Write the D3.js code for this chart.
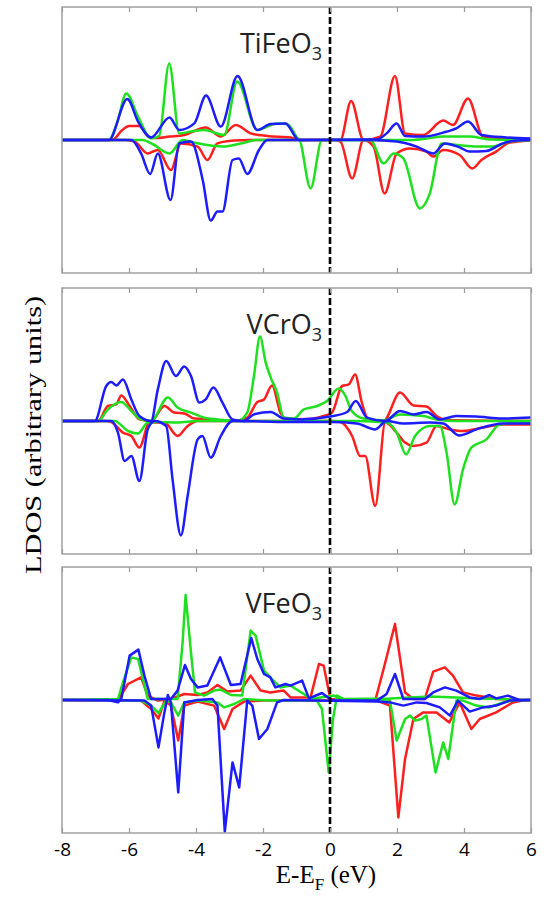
<!DOCTYPE html>
<html>
<head>
<meta charset="utf-8">
<script src="https://cdn.jsdelivr.net/npm/d3@7"></script>
<style>
  body { margin: 0; background: #fff; }
  svg { display: block; }
</style>
</head>
<body>
<script>
// energy axis, eV
const energyTicks = [-8, -6, -4, -2, 0, 2, 4, 6];
const compounds = ["TiFe", "VCr", "VFe"];

// [E - EF, LDOS], arbitrary units
const tiFeRedUp = [[-8,0],[-6.5,0],[-6.2,0.5],[-6.0,0.7],[-5.7,0.7],[-5.4,0.15],[-5.2,0.1],[-4.8,0.17],[-4.35,0.25],[-3.71,0.62],[-3.26,0.17],[-2.81,0.75],[-2.37,0.33],[-1.87,0.2],[-1.18,0.13],[-0.9,0],[0.31,0],[0.63,1.95],[1.0,0],[1.5,0.17],[1.94,3.2],[2.24,0.33],[2.78,0.25],[3.38,0.97],[3.67,0.75],[4.12,2.08],[4.57,0.17],[5.26,0.08],[6,0.03]];
const tiFeRedDown = [[-8,0],[-6.1,0],[-5.83,-0.08],[-5.44,-0.67],[-5.14,-0.5],[-4.75,-1.5],[-4.45,-0.17],[-3.95,-0.33],[-3.66,-1.0],[-3.36,-0.17],[-2.86,-0.03],[-2.4,0],[0.1,0],[0.31,-0.08],[0.66,-1.92],[1.0,0],[1.3,-0.33],[1.63,-2.67],[1.99,-0.67],[2.39,-0.42],[2.88,-0.58],[3.08,-0.83],[3.38,-0.5],[3.87,-0.75],[4.25,-1.42],[4.52,-1.0],[4.96,-0.58],[5.36,-0.13],[5.75,-0.05],[6,-0.03]];
const tiFeGreenUp = [[-8,0],[-6.6,0],[-6.35,0.9],[-6.08,2.33],[-5.73,1.17],[-5.34,0.08],[-5.1,0.2],[-4.8,3.83],[-4.5,0.33],[-4.15,0.42],[-3.76,0.5],[-3.16,0.25],[-2.77,2.92],[-2.17,0.5],[-1.58,0.83],[-1.28,0.8],[-0.88,0],[2.3,0],[2.78,0.05],[3.38,0.17],[4.17,0.17],[4.76,0.03],[6,0]];
const tiFeGreenDown = [[-8,0],[-5.6,0],[-5.3,-0.2],[-4.79,-0.67],[-4.4,0],[-4.0,-0.15],[-3.2,-0.33],[-2.6,-0.15],[-2.2,0],[-0.93,0],[-0.58,-2.42],[-0.24,0],[1.2,0],[1.6,-1.17],[1.9,-0.67],[2.19,-0.92],[2.68,-3.42],[2.98,-2.67],[3.33,-0.17],[3.8,-0.25],[4.4,-0.33],[4.86,-0.33],[5.36,-0.08],[6,0]];
const tiFeBlueUp = [[-8,0],[-6.6,0],[-6.05,2.05],[-5.73,0.92],[-5.34,0.13],[-4.79,1.13],[-4.5,0.5],[-4.05,0.83],[-3.7,2.22],[-3.26,0.67],[-2.76,3.2],[-2.17,0.5],[-1.77,0.8],[-1.33,0.83],[-0.93,0],[1.4,0.03],[1.69,0.33],[1.99,0.83],[2.24,0.2],[2.78,0.17],[3.38,0.37],[3.77,0.58],[4.12,0.92],[4.52,0.25],[5.26,0.13],[6,0.08]];
const tiFeBlueDown = [[-8,0],[-5.93,0],[-5.64,-0.67],[-5.37,-1.7],[-5.14,-0.67],[-4.76,-3.0],[-4.5,-0.17],[-4.15,-0.08],[-3.8,-2.0],[-3.56,-4.03],[-3.36,-3.58],[-3.21,-3.58],[-2.91,-1.0],[-2.72,-0.92],[-2.47,-1.7],[-2.12,-0.5],[-1.87,0],[1.2,0],[1.99,-0.08],[2.59,-0.33],[3.08,-0.67],[3.43,-0.17],[3.87,-0.37],[4.17,-0.58],[4.67,-0.55],[5.16,-0.17],[5.56,-0.03],[6,0]];

const vCrRedUp = [[-8,0],[-6.92,0],[-6.63,0.75],[-6.38,0.83],[-6.23,1.28],[-5.98,0.75],[-5.69,0.08],[-5.34,0],[-4.94,0.75],[-4.65,0.42],[-4.35,0.38],[-4.05,0.12],[-3.56,0.08],[-2.91,0],[-2.47,0.17],[-2.17,0.95],[-1.97,1.08],[-1.73,1.78],[-1.48,0.42],[-1.28,0.08],[-0.6,0.1],[-0.19,0.25],[0.06,0.42],[0.36,1.75],[0.56,1.83],[0.75,2.33],[0.95,0.92],[1.15,0.08],[1.6,0],[2.09,1.42],[2.49,0.78],[2.88,0.72],[3.18,0.25],[3.48,0.05],[6,0]];
const vCrRedDown = [[-8,0],[-6.7,0],[-6.53,-0.05],[-6.18,-0.58],[-5.93,-0.75],[-5.69,-1.33],[-5.39,-0.08],[-4.94,-0.08],[-4.55,-0.75],[-4.25,-0.25],[-3.95,0],[0.1,0],[0.31,-0.05],[0.66,-0.75],[0.9,-1.75],[1.05,-1.75],[1.35,-4.25],[1.65,-0.08],[1.99,-0.58],[2.24,-1.08],[2.49,-1.25],[2.88,-1.08],[3.18,-0.25],[3.58,-0.42],[3.97,-0.5],[4.57,-0.33],[5.16,-0.17],[6,-0.17]];
const vCrGreenUp = [[-8,0],[-6.92,0],[-6.63,0.58],[-6.23,0.95],[-5.93,0.5],[-5.64,0.08],[-5.34,0],[-4.84,1.17],[-4.55,0.67],[-4.15,0.42],[-3.76,0.17],[-3.36,0.08],[-2.76,0],[-2.47,0.42],[-2.27,2.25],[-2.09,4.22],[-1.92,2.92],[-1.77,2.17],[-1.58,1.42],[-1.38,0.17],[-1.08,0.12],[-0.78,0.58],[-0.38,0.75],[-0.09,1.0],[0.26,1.62],[0.46,1.25],[0.65,0.5],[1.0,0.12],[1.6,0.03],[2.09,0.33],[2.78,0.25],[3.18,0.08],[3.77,0],[6,0]];
const vCrGreenDown = [[-8,0],[-6.43,0],[-6.03,-0.5],[-5.73,-0.62],[-5.44,-0.08],[-5.14,-0.05],[-4.55,-0.08],[-3.95,0],[0.8,0],[1.69,-0.08],[1.99,-0.58],[2.27,-1.67],[2.54,-0.75],[2.98,-0.25],[3.28,-0.25],[3.48,-1.58],[3.72,-4.17],[3.97,-2.42],[4.22,-1.33],[4.67,-0.92],[5.06,-0.17],[5.75,-0.08],[6,-0.08]];
const vCrBlueUp = [[-8,0],[-7.02,0],[-6.68,1.75],[-6.53,1.95],[-6.38,1.78],[-6.18,2.08],[-5.93,1.08],[-5.69,0.25],[-5.34,0],[-5.14,1.58],[-4.89,3.0],[-4.6,2.25],[-4.35,2.72],[-4.15,2.25],[-3.9,0.92],[-3.71,1.08],[-3.48,1.67],[-3.21,0.92],[-2.91,0.08],[-2.57,0],[-2.27,0.33],[-1.77,0.45],[-1.38,0.12],[-0.88,0.08],[0.01,0.22],[0.51,0.45],[0.77,1.0],[1.1,0.17],[1.65,0],[2.09,0.5],[2.49,0.33],[2.88,0.45],[3.28,0.08],[3.77,0.25],[4.37,0.22],[5.16,0.12],[6,0.17]];
const vCrBlueDown = [[-8,0],[-6.53,0],[-6.33,-0.58],[-6.13,-2.0],[-5.93,-1.75],[-5.69,-3.0],[-5.44,-0.42],[-5.24,0],[-4.89,-0.25],[-4.7,-2.92],[-4.45,-5.72],[-4.25,-3.75],[-3.95,-0.92],[-3.81,-0.75],[-3.56,-1.83],[-3.26,-0.75],[-2.91,0],[-1.18,-0.05],[0.01,-0.05],[0.8,-0.12],[1.35,-0.42],[1.69,0],[2.19,-0.12],[2.98,-0.08],[3.38,-0.12],[3.85,-0.72],[4.37,-0.42],[5.16,-0.12],[6,-0.12]];

const vFeRedUp = [[-8,0],[-6.33,0],[-6.03,0.8],[-5.64,1.13],[-5.44,0.22],[-5.14,-0.03],[-4.75,0.05],[-4.35,0.3],[-3.95,0.25],[-3.66,0.38],[-3.36,0.75],[-3.06,0.42],[-2.67,0.47],[-2.37,1.22],[-2.07,0.47],[-1.78,0.38],[-1.38,0.47],[-1.18,0.13],[-0.58,0.13],[-0.33,1.8],[-0.19,1.72],[0.01,0.05],[1.35,-0.03],[1.6,1.55],[1.94,3.8],[2.24,0.38],[2.49,0.05],[2.83,0.05],[3.08,1.42],[3.43,1.63],[3.67,1.22],[3.97,0.38],[4.37,0.22],[4.96,0.05],[5.75,0],[6,0]];
const vFeRedDown = [[-8,0],[-5.64,-0.03],[-5.34,-0.45],[-5.12,-0.92],[-4.94,-0.03],[-4.75,-0.28],[-4.53,-2.03],[-4.35,-0.28],[-3.95,-0.08],[-3.46,-0.28],[-3.16,-1.45],[-2.91,-0.45],[-2.57,-0.08],[-1.97,-0.03],[1.4,-0.03],[1.79,-0.28],[2.04,-5.87],[2.24,-2.95],[2.49,-0.95],[2.78,-0.62],[3.18,-0.62],[3.56,-1.12],[3.87,-0.12],[4.22,-1.45],[4.47,-0.95],[4.96,-0.62],[5.46,-0.12],[5.75,-0.03],[6,0]];
const vFeGreenUp = [[-8,0],[-6.33,0.05],[-6.18,0.88],[-5.93,2.13],[-5.73,2.05],[-5.44,0.05],[-4.55,0.05],[-4.4,2.88],[-4.31,5.25],[-4.15,2.38],[-4.03,0.38],[-3.76,0.22],[-3.46,0.47],[-3.26,0.52],[-2.96,0.25],[-2.62,0.22],[-2.37,3.47],[-2.22,3.22],[-1.97,1.47],[-1.73,1.05],[-1.48,0.63],[-1.18,0.72],[-0.78,0.3],[-0.58,0.05],[0.11,0.22],[0.41,0.05],[1.79,0.08],[2.98,0.18],[3.77,0.13],[4.37,0.08],[5.16,0.05],[5.56,0],[6,0]];
const vFeGreenDown = [[-8,0],[-5.64,-0.03],[-5.34,-0.28],[-5.12,-0.65],[-4.89,-0.03],[-4.75,-0.12],[-4.53,-0.78],[-4.35,-0.12],[-3.95,-0.03],[-3.36,-0.12],[-3.16,-0.37],[-2.86,-0.2],[-2.57,0.05],[-1.87,-0.03],[-0.39,-0.03],[-0.24,-0.45],[-0.04,-3.62],[0.09,-0.95],[0.21,0.22],[0.41,0.05],[1.79,-0.03],[1.99,-2.03],[2.24,-0.95],[2.39,-0.78],[2.54,-1.03],[2.73,-0.95],[2.88,-0.78],[3.15,-3.62],[3.38,-2.12],[3.53,-2.95],[3.77,-0.03],[3.97,-0.03],[4.37,-0.28],[4.76,-0.37],[5.16,-0.12],[5.56,0],[6,0]];
const vFeBlueUp = [[-8,0],[-6.63,0],[-6.33,-0.12],[-6.23,0.05],[-5.98,2.22],[-5.72,2.52],[-5.54,1.22],[-5.34,0.05],[-4.75,0.05],[-4.55,0.47],[-4.33,1.75],[-4.15,1.05],[-3.95,0.63],[-3.66,0.72],[-3.28,2.13],[-2.96,0.75],[-2.67,0.8],[-2.35,3.1],[-2.17,2.05],[-1.97,1.3],[-1.78,1.13],[-1.63,0.63],[-1.33,0.8],[-1.18,0.72],[-0.83,0.97],[-0.63,0.08],[-0.24,0.35],[0.06,-0.03],[1.4,-0.03],[1.69,0.3],[1.94,1.3],[2.19,0.05],[2.83,0.05],[3.08,0.38],[3.43,0.63],[3.77,0.47],[4.17,0.13],[4.47,0.05],[4.76,0.25],[4.96,0.08],[5.31,0.22],[5.65,0],[6,0]];
const vFeBlueDown = [[-8,0],[-5.54,-0.03],[-5.34,-0.28],[-5.12,-2.37],[-4.96,-0.78],[-4.84,0.25],[-4.75,-0.12],[-4.53,-4.62],[-4.35,-0.12],[-3.95,0],[-3.51,0.05],[-3.36,-0.28],[-3.14,-6.58],[-2.91,-3.12],[-2.71,-4.37],[-2.47,-0.03],[-2.32,-0.28],[-2.12,-1.95],[-1.87,-1.45],[-1.58,-0.12],[-1.38,0],[1.4,-0.08],[1.79,-0.12],[2.19,-0.28],[2.59,-0.12],[2.88,-0.15],[3.28,-0.37],[3.58,-0.78],[3.82,-0.03],[4.17,-0.58],[4.57,-0.37],[4.96,-0.28],[5.36,-0.03],[6,0]];

const seriesColors = ["#ff1f1f", "#1fe01f", "#1c1cff"];

const panelData = [
  [[tiFeRedUp, tiFeRedDown], [tiFeGreenUp, tiFeGreenDown], [tiFeBlueUp, tiFeBlueDown]],
  [[vCrRedUp, vCrRedDown], [vCrGreenUp, vCrGreenDown], [vCrBlueUp, vCrBlueDown]],
  [[vFeRedUp, vFeRedDown], [vFeGreenUp, vFeGreenDown], [vFeBlueUp, vFeBlueDown]]
];

function initChart() {
  const width = 547;
  const height = 903;
  const svg = d3
    .select("body")
    .append("svg")
    .attr("width", width)
    .attr("height", height);

  const x = d3.scaleLinear().domain([-8, 6]).range([62, 531]);
  return { svg, x };
}

function drawPanel(svg, x, i) {
  const panelTops = [7, 288, 567];
  const panelH = 266;
  const top = panelTops[i];
  const y = d3.scaleLinear().domain([-6.65, 6.65]).range([top + panelH, top]);
  const g = svg.append("g");

  g.append("clipPath")
    .attr("id", "clip" + i)
    .append("rect")
    .attr("x", x.range()[0])
    .attr("y", top)
    .attr("width", x.range()[1] - x.range()[0])
    .attr("height", panelH);

  // panel 3 looks piecewise linear, the others smooth
  const line = d3
    .line()
    .x((d) => x(d[0]))
    .y((d) => y(d[1]))
    .curve(i === 2 ? d3.curveLinear : d3.curveMonotoneX);

  const lines = g.append("g").attr("clip-path", "url(#clip" + i + ")");
  panelData[i].forEach(function (pair, c) {
    pair.forEach(function (series) {
      lines
        .append("path")
        .attr("d", line(series))
        .attr("fill", "none")
        .attr("stroke", seriesColors[c])
        .attr("stroke-width", 2.5)
        .attr("stroke-linejoin", "round");
    });
  });

  g.append("line")
    .attr("x1", x(0))
    .attr("x2", x(0))
    .attr("y1", top)
    .attr("y2", top + panelH)
    .attr("stroke", "#000")
    .attr("stroke-width", 2.6)
    .attr("stroke-dasharray", "7,3");

  const bottomAxis = d3
    .axisBottom(x)
    .tickValues(energyTicks)
    .tickSize(-5)
    .tickPadding(10)
    .tickFormat((d) => (i === 2 ? String(d) : ""));
  const topAxis = d3.axisTop(x).tickValues(energyTicks).tickSize(-5).tickFormat("");

  [
    g.append("g").attr("transform", "translate(0," + (top + panelH) + ")").call(bottomAxis),
    g.append("g").attr("transform", "translate(0," + top + ")").call(topAxis)
  ].forEach(function (ax) {
    ax.select(".domain").remove();
    ax.selectAll("line").attr("stroke", "#999").attr("stroke-width", 1.2);
    ax.selectAll("text")
      .attr("fill", "#000")
      .style("font-family", "'Open Sans', sans-serif")
      .style("font-size", "19px");
  });

  g.append("rect")
    .attr("x", x.range()[0])
    .attr("y", top)
    .attr("width", x.range()[1] - x.range()[0])
    .attr("height", panelH)
    .attr("fill", "none")
    .attr("stroke", "#a0a0a0")
    .attr("stroke-width", 1.5);

  const label = g
    .append("text")
    .attr("x", 322)
    .attr("y", top + 46)
    .attr("text-anchor", "end")
    .style("font-family", "'Open Sans', sans-serif")
    .style("font-size", "27px")
    .attr("fill", "#222");
  label.append("tspan").text(compounds[i] + "O");
  label.append("tspan").attr("dy", 7).style("font-size", "18px").text("3");
}

function drawLabels(svg) {
  const xl = svg
    .append("text")
    .attr("x", 326)
    .attr("y", 883)
    .attr("text-anchor", "middle")
    .style("font-family", "'Liberation Serif', serif")
    .style("font-size", "25px")
    .attr("fill", "#000");
  xl.append("tspan").text("E-E");
  xl.append("tspan").attr("dy", 7).style("font-size", "17px").text("F");
  xl.append("tspan").attr("dy", -7).text(" (eV)");

  svg
    .append("text")
    .attr("transform", "translate(41,435) rotate(-90) scale(1.32,1)")
    .attr("text-anchor", "middle")
    .style("font-family", "'Liberation Serif', serif")
    .style("font-size", "23px")
    .style("font-weight", "normal")
    .attr("fill", "#000")
    .text("LDOS (arbitrary  units)");
}

const chart = initChart();
[0, 1, 2].forEach((i) => drawPanel(chart.svg, chart.x, i));
drawLabels(chart.svg);
</script>
</body>
</html>
